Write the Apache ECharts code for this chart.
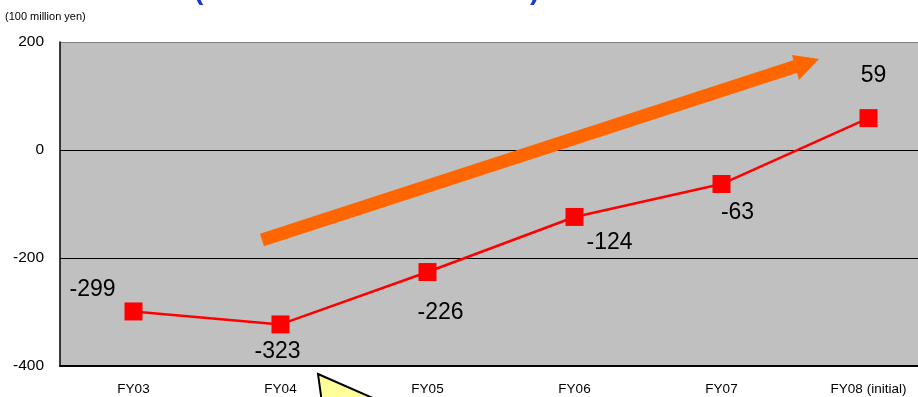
<!DOCTYPE html>
<html>
<head>
<meta charset="utf-8">
<style>
  html, body { margin: 0; padding: 0; background: #ffffff; overflow: hidden; }
  body { width: 918px; height: 397px; }
  /* the plot runs past the right edge of the page */
  #chart { width: 942px; height: 397px; }
</style>
<script src="https://cdn.jsdelivr.net/npm/echarts@6/dist/echarts.min.js"></script>
</head>
<body>
<div id="chart"></div>
<script>
// Fiscal years on the category axis
const categories = ['FY03', 'FY04', 'FY05', 'FY06', 'FY07', 'FY08 (initial)'];
// Operating result per year, in units of 100 million yen
const values = [-299, -323, -226, -124, -63, 59];
// Value axis range and step
const yMin = -400;
const yMax = 200;
const yStep = 200;
const unitLabel = '(100 million yen)';

// Where each value label sits relative to its marker (pixels)
const labelOffsets = [[-41, -22], [-3, 27], [13, 41], [35, 26], [16, 29], [5, -42]];

const sans = 'Arial, "Liberation Sans", sans-serif';

const chart = echarts.init(document.getElementById('chart'), null, { renderer: 'canvas' });

const seriesData = values.map((v, i) => ({
  value: v,
  label: { offset: labelOffsets[i] }
}));

chart.setOption({
  animation: false,
  backgroundColor: '#ffffff',
  grid: {
    left: 60, top: 42, right: 0, bottom: 31,
    show: true, backgroundColor: '#c0c0c0', borderWidth: 0
  },
  xAxis: {
    type: 'category',
    data: categories,
    boundaryGap: true,
    axisLine: { show: true, onZero: false, lineStyle: { color: '#000000', width: 2 } },
    axisTick: { show: false },
    axisLabel: { color: '#000000', fontFamily: sans, fontSize: 13.5, margin: 16 }
  },
  yAxis: {
    type: 'value',
    min: yMin, max: yMax, interval: yStep,
    axisLine: { show: true, lineStyle: { color: '#000000', width: 1.5 } },
    axisTick: { show: false },
    axisLabel: { color: '#000000', fontFamily: sans, fontSize: 15.5, margin: 16 },
    splitLine: { show: true, lineStyle: { color: ['#000000', '#000000', '#000000', '#7f7f7f'], width: 1 } }
  },
  series: [{
    type: 'line',
    data: seriesData,
    symbol: 'rect',
    symbolSize: 18,
    itemStyle: { color: '#ff0000' },
    lineStyle: { color: '#ff0000', width: 2.5 },
    label: {
      show: true,
      position: 'inside',
      color: '#000000',
      fontFamily: sans,
      fontSize: 23
    },
    z: 5
  }],
  graphic: [
    // unit caption above the value axis
    {
      type: 'text', left: 5, top: 11,
      style: { text: unitLabel, fill: '#000000', font: '11px Arial, "Liberation Sans", sans-serif' }
    },
    // bottom tails of the heading's brackets
    {
      type: 'text', x: 194, y: 5,
      style: { text: '(', fill: '#1a3ad8', font: 'bold 28px Arial, "Liberation Sans", sans-serif', verticalAlign: 'bottom' }
    },
    {
      type: 'text', x: 530, y: 5,
      style: { text: ')', fill: '#1a3ad8', font: 'bold 28px Arial, "Liberation Sans", sans-serif', verticalAlign: 'bottom' }
    },
    // orange trend arrow: shaft
    {
      type: 'line', z: 10,
      shape: { x1: 262, y1: 240, x2: 800, y2: 65 },
      style: { stroke: '#ff6600', lineWidth: 13, lineCap: 'butt' }
    },
    // orange trend arrow: head
    {
      type: 'polygon', z: 10,
      shape: { points: [[819, 59], [792, 55], [799, 80]] },
      style: { fill: '#ff6600' }
    },
    // yellow callout pointer below the axis
    {
      type: 'polygon', z: 10,
      shape: { points: [[318, 374], [400, 410], [323, 410]] },
      style: { fill: '#ffff99', stroke: '#000000', lineWidth: 2 }
    }
  ]
});
</script>
</body>
</html>
